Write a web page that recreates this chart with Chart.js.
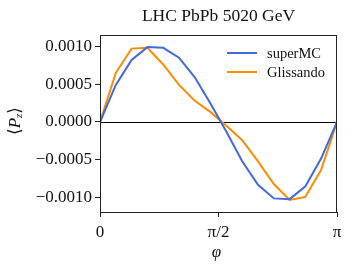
<!DOCTYPE html>
<html>
<head>
<meta charset="utf-8">
<script src="https://cdn.jsdelivr.net/npm/chart.js@4"></script>
<style>
  html, body { margin: 0; padding: 0; background: #fff; }
  canvas { display: block; }
</style>
</head>
<body>
<canvas id="pzChart" width="352" height="269"></canvas>
<script>
// phi grid (0 .. pi in 15 steps)
const phi = [0, 0.2094, 0.4189, 0.6283, 0.8378, 1.0472, 1.2566, 1.4661,
             1.6755, 1.8850, 2.0944, 2.3038, 2.5133, 2.7227, 2.9322, 3.1416];
const superMC = [0, 0.00049, 0.00082, 0.00099, 0.00098, 0.00085, 0.00059, 0.00024,
                 -0.00013, -0.00052, -0.00083, -0.00101, -0.00102, -0.00085, -0.00048, 0];
const glissando = [0, 0.00065, 0.00097, 0.00098, 0.00076, 0.00049, 0.00028, 0.00013,
                   -0.00005, -0.00024, -0.00052, -0.00082, -0.00103, -0.00099, -0.00063, 0];
const xTickValues = [0, Math.PI / 2, Math.PI];
const xTickLabels = ['0', 'π/2', 'π'];
const yTickValues = [-0.001, -0.0005, 0, 0.0005, 0.001];
const yTickLabels = ['−0.0010', '−0.0005', '0.0000', '0.0005', '0.0010'];

const serif = '"Liberation Serif", "DejaVu Serif", serif';

function toPoints(ys) {
    return ys.map((y, i) => ({ x: phi[i], y: y }));
}

const extras = {
    id: 'extras',
    beforeDatasetsDraw(chart) {
        const { ctx, chartArea: a, scales } = chart;
        const y0 = Math.round(scales.y.getPixelForValue(0)) + 0.5;
        ctx.save();
        ctx.strokeStyle = '#000';
        ctx.lineWidth = 1;
        ctx.beginPath();
        ctx.moveTo(a.left, y0);
        ctx.lineTo(a.right, y0);
        ctx.stroke();
        ctx.restore();
    },
    afterDraw(chart) {
        const { ctx, chartArea: a } = chart;
        ctx.save();
        // frame
        ctx.strokeStyle = '#222';
        ctx.lineWidth = 1;
        ctx.strokeRect(a.left + 0.5, a.top + 0.5, a.right - a.left - 1, a.bottom - a.top);

        // title
        ctx.fillStyle = '#111';
        ctx.font = '17.5px ' + serif;
        ctx.textAlign = 'center';
        ctx.textBaseline = 'alphabetic';
        ctx.fillText('LHC PbPb 5020 GeV', (a.left + a.right) / 2, 21);

        // x axis title
        ctx.textBaseline = 'middle';
        ctx.font = 'italic 17px ' + serif;
        ctx.fillText('φ', (a.left + a.right) / 2 - 2, 253);

        // y axis title  <P_z>
        ctx.translate(16, 121);
        ctx.rotate(-Math.PI / 2);
        ctx.textAlign = 'left';
        ctx.font = '17px ' + serif;
        const w1 = ctx.measureText('⟨').width;
        ctx.font = 'italic 17px ' + serif;
        const w2 = ctx.measureText('P').width;
        ctx.font = 'italic 11px ' + serif;
        const w3 = ctx.measureText('z').width;
        ctx.font = '17px ' + serif;
        const w4 = ctx.measureText('⟩').width;
        let x = -(w1 + w2 + w3 + w4) / 2;
        ctx.fillText('⟨', x, 0); x += w1;
        ctx.font = 'italic 17px ' + serif;
        ctx.fillText('P', x, 0); x += w2;
        ctx.font = 'italic 11px ' + serif;
        ctx.fillText('z', x, 3); x += w3;
        ctx.font = '17px ' + serif;
        ctx.fillText('⟩', x, 0);
        ctx.restore();

        // legend
        ctx.save();
        ctx.font = '14.5px ' + serif;
        ctx.textBaseline = 'middle';
        chart.data.datasets.forEach((ds, i) => {
            const y = a.top + 18 + i * 19;
            const x0 = a.right - 110;
            ctx.strokeStyle = ds.borderColor;
            ctx.lineWidth = 2;
            ctx.beginPath();
            ctx.moveTo(x0, y);
            ctx.lineTo(x0 + 30, y);
            ctx.stroke();
            ctx.fillStyle = '#111';
            ctx.fillText(ds.label, x0 + 40, y + 1);
        });
        ctx.restore();
    }
};

new Chart(document.getElementById('pzChart').getContext('2d'), {
    type: 'line',
    data: {
        datasets: [{
            label: 'superMC',
            data: toPoints(superMC),
            borderColor: '#4169E1',
            borderWidth: 2,
            pointRadius: 0,
            tension: 0,
            fill: false
        }, {
            label: 'Glissando',
            data: toPoints(glissando),
            borderColor: '#FF8C00',
            borderWidth: 2,
            pointRadius: 0,
            tension: 0,
            fill: false
        }]
    },
    options: {
        responsive: false,
        animation: false,
        layout: { padding: { top: 35, right: 15, left: 0, bottom: 0 } },
        plugins: {
            legend: { display: false },
            tooltip: { enabled: false },
            title: { display: false }
        },
        scales: {
            x: {
                type: 'linear',
                min: 0,
                max: Math.PI,
                afterBuildTicks: (s) => { s.ticks = xTickValues.map(v => ({ value: v })); },
                afterFit: (s) => { s.height = 57; },
                ticks: {
                    autoSkip: false,
                    maxRotation: 0,
                    padding: 5,
                    color: '#111',
                    font: { family: serif, size: 17 },
                    callback: (v, i) => xTickLabels[i]
                },
                grid: { drawOnChartArea: false, drawTicks: true, tickLength: 5, color: '#222' },
                border: { display: false }
            },
            y: {
                min: -0.00119,
                max: 0.00115,
                afterBuildTicks: (s) => { s.ticks = yTickValues.map(v => ({ value: v })); },
                afterFit: (s) => { s.width = 100; },
                ticks: {
                    autoSkip: false,
                    padding: 3,
                    color: '#111',
                    font: { family: serif, size: 17 },
                    callback: (v, i) => yTickLabels[i]
                },
                grid: { drawOnChartArea: false, drawTicks: true, tickLength: 5, color: '#222' },
                border: { display: false }
            }
        }
    },
    plugins: [extras]
});
</script>
</body>
</html>
